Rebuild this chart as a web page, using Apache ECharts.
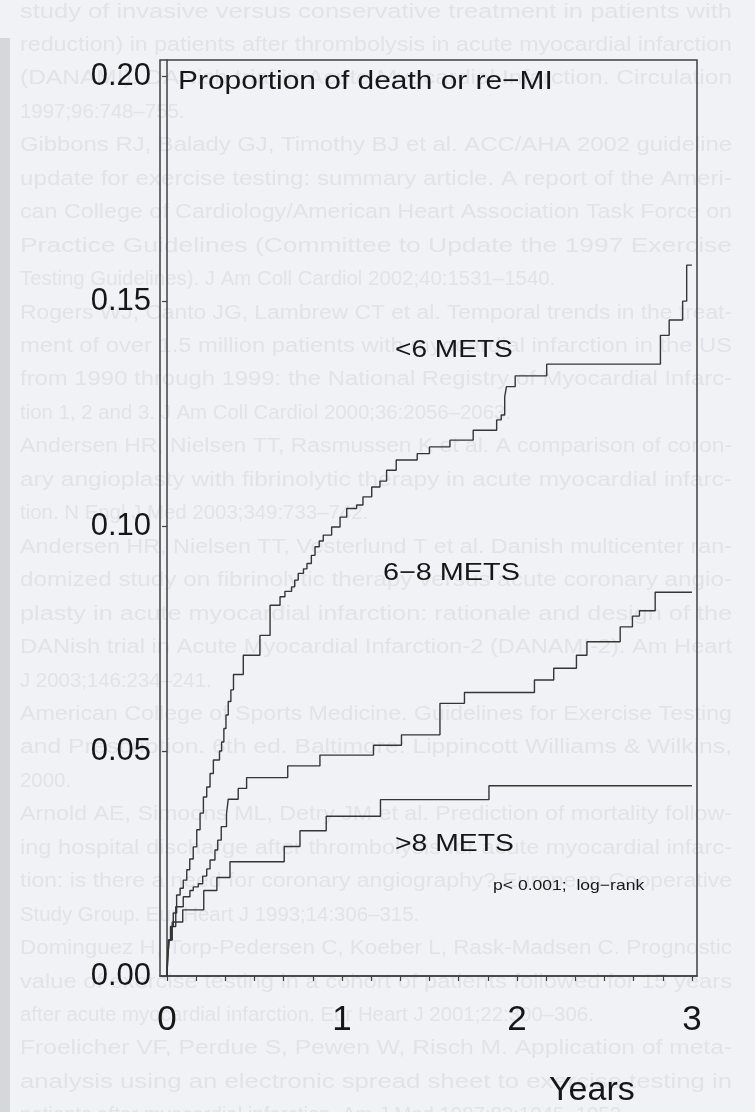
<!DOCTYPE html>
<html><head><meta charset="utf-8">
<script src="https://cdn.jsdelivr.net/npm/echarts@6/dist/echarts.min.js"></script>
<style>html,body{margin:0;padding:0;background:#f0f1f5}#c{width:755px;height:1112px}</style>
</head><body><div id="c"></div>
<script>
// ---- data ----
const groupNames = ['<6 METS', '6−8 METS', '>8 METS'];
const t_lt6 = [0, 0.003, 0.008, 0.02, 0.036, 0.055, 0.075, 0.093, 0.113, 0.13, 0.15, 0.17, 0.189, 0.208, 0.227, 0.246, 0.265, 0.30, 0.312, 0.325, 0.337, 0.35, 0.365, 0.38, 0.436, 0.531, 0.589, 0.646, 0.674, 0.712, 0.73, 0.75, 0.78, 0.80, 0.825, 0.846, 0.87, 0.893, 0.941, 0.989, 1.027, 1.084, 1.12, 1.17, 1.217, 1.255, 1.31, 1.43, 1.50, 1.617, 1.75, 1.884, 1.91, 1.93, 1.94, 1.99, 2.17, 2.82, 2.87, 2.947, 2.97, 3.0];
const p_lt6 = [0, 0.004, 0.008, 0.011, 0.014, 0.018, 0.0195, 0.0213, 0.0236, 0.026, 0.0287, 0.0325, 0.0362, 0.0398, 0.042, 0.045, 0.048, 0.050, 0.052, 0.055, 0.058, 0.061, 0.0636, 0.067, 0.0713, 0.0757, 0.0824, 0.0843, 0.0855, 0.0865, 0.088, 0.0895, 0.0905, 0.0917, 0.0935, 0.0954, 0.0967, 0.098, 0.0998, 0.102, 0.1039, 0.1047, 0.1065, 0.1087, 0.110, 0.1124, 0.1147, 0.1161, 0.1176, 0.1191, 0.1213, 0.1236, 0.1247, 0.1287, 0.131, 0.1334, 0.1360, 0.1424, 0.1458, 0.150, 0.158, 0.158];
const t_6to8 = [0, 0.004, 0.012, 0.025, 0.05, 0.093, 0.131, 0.15, 0.179, 0.204, 0.227, 0.246, 0.274, 0.29, 0.31, 0.34, 0.35, 0.407, 0.455, 0.69, 0.874, 1.18, 1.34, 1.56, 1.70, 2.10, 2.21, 2.34, 2.40, 2.59, 2.66, 2.70, 2.79, 3.0];
const p_6to8 = [0, 0.004, 0.008, 0.011, 0.0154, 0.0176, 0.019, 0.0198, 0.0205, 0.0222, 0.0238, 0.0258, 0.028, 0.0302, 0.0332, 0.036, 0.0393, 0.0417, 0.0441, 0.0467, 0.0491, 0.0513, 0.0536, 0.0606, 0.063, 0.0658, 0.0684, 0.0713, 0.0743, 0.0776, 0.0800, 0.0812, 0.0853, 0.0853];
const t_gt8 = [0, 0.004, 0.012, 0.03, 0.09, 0.21, 0.285, 0.36, 0.67, 0.76, 0.91, 1.22, 1.84, 3.0];
const p_gt8 = [0, 0.004, 0.008, 0.012, 0.0147, 0.019, 0.0219, 0.0254, 0.0288, 0.0323, 0.0355, 0.0392, 0.0423, 0.0423];
const yTickValues = [0, 0.05, 0.10, 0.15, 0.20];
const xLabelValues = [0, 1, 2, 3];
const xTickValues = [0, 1/6, 2/6, 3/6, 4/6, 5/6, 1, 7/6, 8/6, 9/6, 10/6, 11/6, 2, 13/6, 14/6, 15/6, 16/6, 17/6, 3];
const titleText = 'Proportion of death or re−MI';
const pText = 'p< 0.001;  log−rank';
const xName = 'Years';

// faint page text showing through the scan
const bgLines = [
 'study of invasive versus conservative treatment in patients with',
 'reduction) in patients after thrombolysis in acute myocardial infarction',
 '(DANAMI). DANish trial in Acute Myocardial Infarction. Circulation',
 '1997;96:748–755.',
 'Gibbons RJ, Balady GJ, Timothy BJ et al. ACC/AHA 2002 guideline',
 'update for exercise testing: summary article. A report of the Ameri-',
 'can College of Cardiology/American Heart Association Task Force on',
 'Practice Guidelines (Committee to Update the 1997 Exercise',
 'Testing Guidelines). J Am Coll Cardiol 2002;40:1531–1540.',
 'Rogers WJ, Canto JG, Lambrew CT et al. Temporal trends in the treat-',
 'ment of over 1.5 million patients with myocardial infarction in the US',
 'from 1990 through 1999: the National Registry of Myocardial Infarc-',
 'tion 1, 2 and 3. J Am Coll Cardiol 2000;36:2056–2063.',
 'Andersen HR, Nielsen TT, Rasmussen K et al. A comparison of coron-',
 'ary angioplasty with fibrinolytic therapy in acute myocardial infarc-',
 'tion. N Engl J Med 2003;349:733–742.',
 'Andersen HR, Nielsen TT, Vesterlund T et al. Danish multicenter ran-',
 'domized study on fibrinolytic therapy versus acute coronary angio-',
 'plasty in acute myocardial infarction: rationale and design of the',
 'DANish trial in Acute Myocardial Infarction-2 (DANAMI-2). Am Heart',
 'J 2003;146:234–241.',
 'American College of Sports Medicine. Guidelines for Exercise Testing',
 'and Prescription. 6th ed. Baltimore: Lippincott Williams & Wilkins,',
 '2000.',
 'Arnold AE, Simoons ML, Detry JM et al. Prediction of mortality follow-',
 'ing hospital discharge after thrombolysis for acute myocardial infarc-',
 'tion: is there a need for coronary angiography? European Cooperative',
 'Study Group. Eur Heart J 1993;14:306–315.',
 'Dominguez H, Torp-Pedersen C, Koeber L, Rask-Madsen C. Prognostic',
 'value of exercise testing in a cohort of patients followed for 15 years',
 'after acute myocardial infarction. Eur Heart J 2001;22:300–306.',
 'Froelicher VF, Perdue S, Pewen W, Risch M. Application of meta-',
 'analysis using an electronic spread sheet to exercise testing in',
 'patients after myocardial infarction. Am J Med 1987;83:1045–1052.'
];
const bgShort = [3, 8, 12, 15, 20, 23, 27, 30, 33];

// ---- build ----
function zip(t, p) { return t.map((v, i) => [v, p[i]]); }
const seriesData = [zip(t_lt6, p_lt6), zip(t_6to8, p_6to8), zip(t_gt8, p_gt8)];

const ctx = document.createElement('canvas').getContext('2d');
const bgFont = '20px "Liberation Sans", Arial, sans-serif';
ctx.font = bgFont;
const bgElems = bgLines.map((s, k) => {
  const w = ctx.measureText(s).width;
  let sx = bgShort.indexOf(k) >= 0 ? 1.02 : 712 / w;
  sx = Math.max(0.85, Math.min(1.35, sx));
  return { type: 'text', x: 20, y: 12 + 33.45 * k, scaleX: sx, z: -10, silent: true,
    style: { text: s, font: bgFont, fill: '#e1e3e8', textVerticalAlign: 'middle' } };
});

const lbl = (text, x, y, size, sx) => ({ type: 'text', x: x, y: y, scaleX: sx, z: 50,
  style: { text: text, font: size + 'px "Liberation Sans", Arial, sans-serif', fill: '#161616', textVerticalAlign: 'middle' } });

const chart = echarts.init(document.getElementById('c'), null, { renderer: 'canvas' });
const axisCol = '#404040';
chart.setOption({
  animation: false,
  backgroundColor: '#f1f2f6',
  grid: { left: 160, right: 58, top: 60, bottom: 136, show: true, borderColor: axisCol, borderWidth: 1.5, backgroundColor: 'transparent' },
  xAxis: {
    type: 'value', min: -0.04, max: 3.029,
    axisLine: { show: true, lineStyle: { color: axisCol, width: 1.5 } },
    axisTick: { show: true, customValues: xTickValues, length: 5, lineStyle: { color: axisCol, width: 1.2 } },
    axisLabel: { customValues: xLabelValues, fontSize: 35, color: '#161616', margin: 27, fontFamily: '"Liberation Sans", Arial, sans-serif' },
    splitLine: { show: false }
  },
  yAxis: {
    type: 'value', min: 0, max: 0.2036,
    axisLine: { show: true, lineStyle: { color: axisCol, width: 1.5 } },
    axisTick: { show: true, customValues: yTickValues, length: 5, lineStyle: { color: axisCol, width: 1.2 } },
    axisLabel: { customValues: yTickValues, fontSize: 31, color: '#161616', margin: 9, fontFamily: '"Liberation Sans", Arial, sans-serif', formatter: v => v.toFixed(2) },
    splitLine: { show: false }
  },
  series: seriesData.map((d, i) => ({
    name: groupNames[i], type: 'line', step: 'end', data: d, showSymbol: false, symbol: 'none',
    lineStyle: { color: '#353535', width: 1.4 }, z: 3
  })),
  graphic: { elements: [
    { type: 'rect', shape: { x: 0, y: 38, width: 10, height: 1074 }, z: -20, silent: true, style: { fill: '#d6d7da' } },
    ...bgElems,
    lbl(titleText, 178, 82, 26, 1.15),
    lbl(groupNames[0], 395, 350, 24, 1.17),
    lbl(groupNames[1], 383, 573, 24, 1.2),
    lbl(groupNames[2], 395, 844, 24, 1.18),
    lbl(pText, 493, 886, 15, 1.17),
    lbl(xName, 549, 1091, 34, 1.0)
  ] }
});
</script>
</body></html>
